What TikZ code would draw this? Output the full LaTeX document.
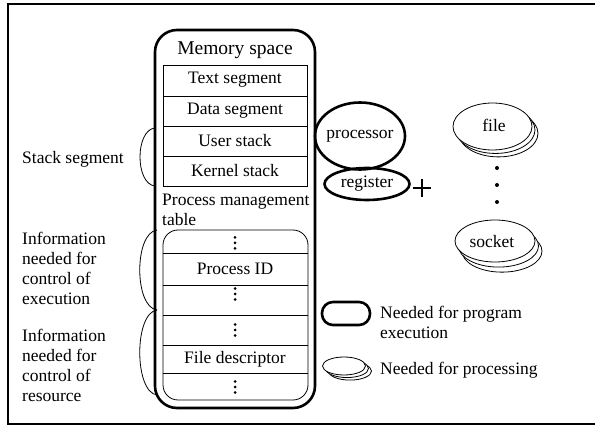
\documentclass[tikz,border=0pt]{standalone}
\usepackage{fontspec}
\setmainfont{Liberation Serif}
\usetikzlibrary{calc}
\begin{document}
\begin{tikzpicture}[x=1pt,y=-1pt,
  txt/.style={font=\fontsize{17.5}{20}\selectfont, inner sep=0pt},
  bigtxt/.style={font=\fontsize{19.5}{22}\selectfont, inner sep=0pt},
  heavy/.style={line width=2.6pt},
  fine/.style={line width=0.8pt},
  frameline/.style={line width=1.4pt},
  stackfill/.style={fine, fill=white}]
\useasboundingbox (0,0) rectangle (595,430);

% outer frame (open on the right)
\draw[frameline] (595,4) -- (8,4) -- (8,424) -- (595,424);

% memory space
\draw[heavy, rounded corners=22pt] (155,30) rectangle (315,408);
\node[bigtxt] (mem) at (235,50) {Memory space};

% segment table
\draw[fine] (163,65) rectangle (307,186);
\foreach \y in {96,126,156} \draw[fine] (163,\y) -- (307,\y);
\node[txt] (text) at (235,80) {Text segment};
\node[txt] (data) at (235,111) {Data segment};
\node[txt] (ustack) at (235,141) {User stack};
\node[txt] (kstack) at (235,171) {Kernel stack};

% process management table
\node[txt, align=left, anchor=west] (pmt) at (162,210) {Process management\\table};
\draw[fine, rounded corners=15pt] (163,230) rectangle (308,400);
\foreach \y in {253,285,315,345,373} \draw[fine] (163,\y) -- (308,\y);
\node[txt] (pid) at (235,269) {Process ID};
\node[txt] (fd) at (235,359) {File descriptor};
\foreach \y in {243,294,330,387}
  \foreach \d in {-5.5,0,5.5}
    \fill (235,\y+\d) circle (1.5);

% brackets on the left
\draw[fine] (155,128) .. controls (135,130) and (135,184) .. (155,186);
\draw[fine] (157,230) .. controls (134,233) and (134,307) .. (157,310);
\draw[fine] (157,310) .. controls (134,313) and (134,392) .. (157,395);
\node[txt, anchor=west] (stackseg) at (22,159) {Stack segment};
\node[txt, align=left, anchor=west] (infoexec) at (22,268) {Information\\needed for\\control of\\execution};
\node[txt, align=left, anchor=west] (infores) at (22,365) {Information\\needed for\\control of\\resource};

% processor and register
\node[txt] (proc) at (360,136) {processor};
\draw[heavy] (proc.center) ellipse [x radius=45, y radius=33.5];
\node[txt] (reg) at (367,184) {register};
\draw[heavy] (reg.center) ellipse [x radius=42.5, y radius=16];
\coordinate (plus) at (422,188);
\draw[line width=1.3pt] ([xshift=-9pt]plus) -- ([xshift=9pt]plus);
\draw[line width=1.3pt] ([yshift=-9pt]plus) -- ([yshift=9pt]plus);

% file and socket stacks
\coordinate (filec) at (492.5,126.5);
\foreach \o in {6,3} \draw[stackfill] ($(filec)+(\o,\o*1.15)$) ellipse [x radius=39.5, y radius=23.5];
\draw[stackfill] (filec) ellipse [x radius=39.5, y radius=23.5];
\node[txt] (file) at (494,125) {file};
\foreach \y in {168,185,202} \fill (497,\y) circle (2);
\coordinate (sockc) at (495,241);
\foreach \o in {7,3.5} \draw[stackfill] ($(sockc)+(\o,\o*1.45)$) ellipse [x radius=40, y radius=21];
\draw[stackfill] (sockc) ellipse [x radius=40, y radius=21];
\node[txt] (sock) at (492,242) {socket};

% legend
\draw[heavy, rounded corners=11pt] (322,302) rectangle (370,325);
\node[txt, align=left, anchor=west] (legexec) at (380,322) {Needed for program\\execution};
\coordinate (legc) at (344,366);
\foreach \o in {6,3} \draw[stackfill] ($(legc)+(\o,\o*0.85)$) ellipse [x radius=21.5, y radius=9];
\draw[stackfill] (legc) ellipse [x radius=21.5, y radius=9];
\node[txt, anchor=west] (legproc) at (380,370) {Needed for processing};
\end{tikzpicture}
\end{document}
